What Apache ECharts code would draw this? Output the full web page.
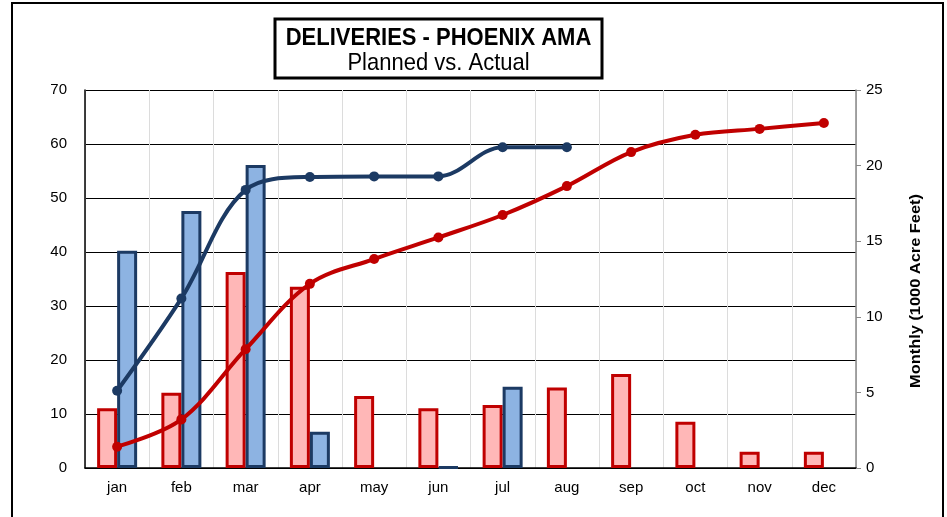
<!DOCTYPE html>
<html><head><meta charset="utf-8">
<script src="https://cdn.jsdelivr.net/npm/echarts@6/dist/echarts.min.js"></script>
<style>html,body{margin:0;padding:0;background:#fff}#c{width:947px;height:517px}</style>
</head><body><div id="c"></div>
<script>
var months = ['jan','feb','mar','apr','may','jun','jul','aug','sep','oct','nov','dec'];
var plannedMonthly = [3.95, 4.98, 12.96, 11.99, 4.76, 3.95, 4.17, 5.33, 6.22, 3.06, 1.08, 1.08];
var actualMonthly = [14.37, 17.0, 20.04, 2.4, '-', 0.05, 5.38, '-', '-', '-', '-', '-'];
var plannedCumulative = [3.95, 9.0, 22.0, 34.1, 38.7, 42.7, 46.85, 52.2, 58.5, 61.7, 62.8, 63.9];
var actualCumulative = [14.3, 31.4, 51.5, 53.9, 54.0, 54.0, 59.4, 59.4];
var leftTicks = {min: 0, max: 70, interval: 10};
var rightTicks = {min: 0, max: 25, interval: 5};

var chart = echarts.init(document.getElementById('c'), null, {renderer: 'canvas'});
var font = 'Liberation Sans, Arial, sans-serif';
chart.setOption({
  animation: false,
  textStyle: {fontFamily: font},
  grid: {left: 85, right: 91, top: 90, bottom: 49, containLabel: false},
  graphic: [
    {type: 'rect', shape: {x: 12, y: 3, width: 931, height: 530}, style: {fill: 'none', stroke: '#000', lineWidth: 2}, z: 100},
    {type: 'rect', shape: {x: 275, y: 19, width: 327, height: 59}, style: {fill: '#fff', stroke: '#000', lineWidth: 3}, z: 100},
    {type: 'text', x: 438.5, y: 38, scaleY: 1.1, style: {text: 'DELIVERIES - PHOENIX AMA', font: 'bold 22px ' + font, fill: '#000', align: 'center', verticalAlign: 'middle'}, z: 101},
    {type: 'text', x: 438.5, y: 63, scaleY: 1.1, style: {text: 'Planned vs. Actual', font: '22px ' + font, fill: '#000', align: 'center', verticalAlign: 'middle'}, z: 101},
    {type: 'text', x: 916, y: 291, rotation: Math.PI / 2, scaleX: 1.17, style: {text: 'Monthly (1000 Acre Feet)', font: 'bold 14px ' + font, fill: '#000', align: 'center', verticalAlign: 'middle'}, z: 101}
  ],
  xAxis: {
    type: 'category', data: months, boundaryGap: true,
    axisLine: {lineStyle: {color: '#000', width: 1.5}},
    axisTick: {show: false},
    axisLabel: {color: '#000', fontSize: 15, margin: 12, fontFamily: font},
    splitLine: {show: true, lineStyle: {color: '#dcdcdc', width: 1}}
  },
  yAxis: [
    {type: 'value', min: leftTicks.min, max: leftTicks.max, interval: leftTicks.interval,
     axisLine: {show: true, lineStyle: {color: '#000', width: 1.5}},
     axisTick: {show: false},
     axisLabel: {color: '#000', fontSize: 15, margin: 18, fontFamily: font},
     splitLine: {show: true, lineStyle: {color: '#000', width: 1.2}}},
    {type: 'value', min: rightTicks.min, max: rightTicks.max, interval: rightTicks.interval, position: 'right',
     axisLine: {show: true, lineStyle: {color: '#888', width: 1.5}},
     axisTick: {show: true, length: 5, lineStyle: {color: '#888'}},
     axisLabel: {color: '#000', fontSize: 15, margin: 10, fontFamily: font},
     splitLine: {show: false}}
  ],
  series: [
    {type: 'bar', name: 'Planned Monthly', yAxisIndex: 1, data: plannedMonthly, barGap: '0%', barWidth: 20,
     itemStyle: {color: '#ffb7b7', borderColor: '#c00000', borderWidth: 3}, z: 2},
    {type: 'bar', name: 'Actual Monthly', yAxisIndex: 1, data: actualMonthly, barGap: '0%', barWidth: 20,
     itemStyle: {color: '#8db3e2', borderColor: '#1c3a63', borderWidth: 3}, z: 2},
    {type: 'line', name: 'Planned Cumulative', yAxisIndex: 0, data: plannedCumulative, smooth: 0.35,
     symbol: 'circle', symbolSize: 10, lineStyle: {color: '#c00000', width: 4}, itemStyle: {color: '#c00000'}, z: 5},
    {type: 'line', name: 'Actual Cumulative', yAxisIndex: 0, data: actualCumulative, smooth: 0.35,
     symbol: 'circle', symbolSize: 10, lineStyle: {color: '#1c3a63', width: 4}, itemStyle: {color: '#1c3a63'}, z: 6}
  ]
});
</script></body></html>
